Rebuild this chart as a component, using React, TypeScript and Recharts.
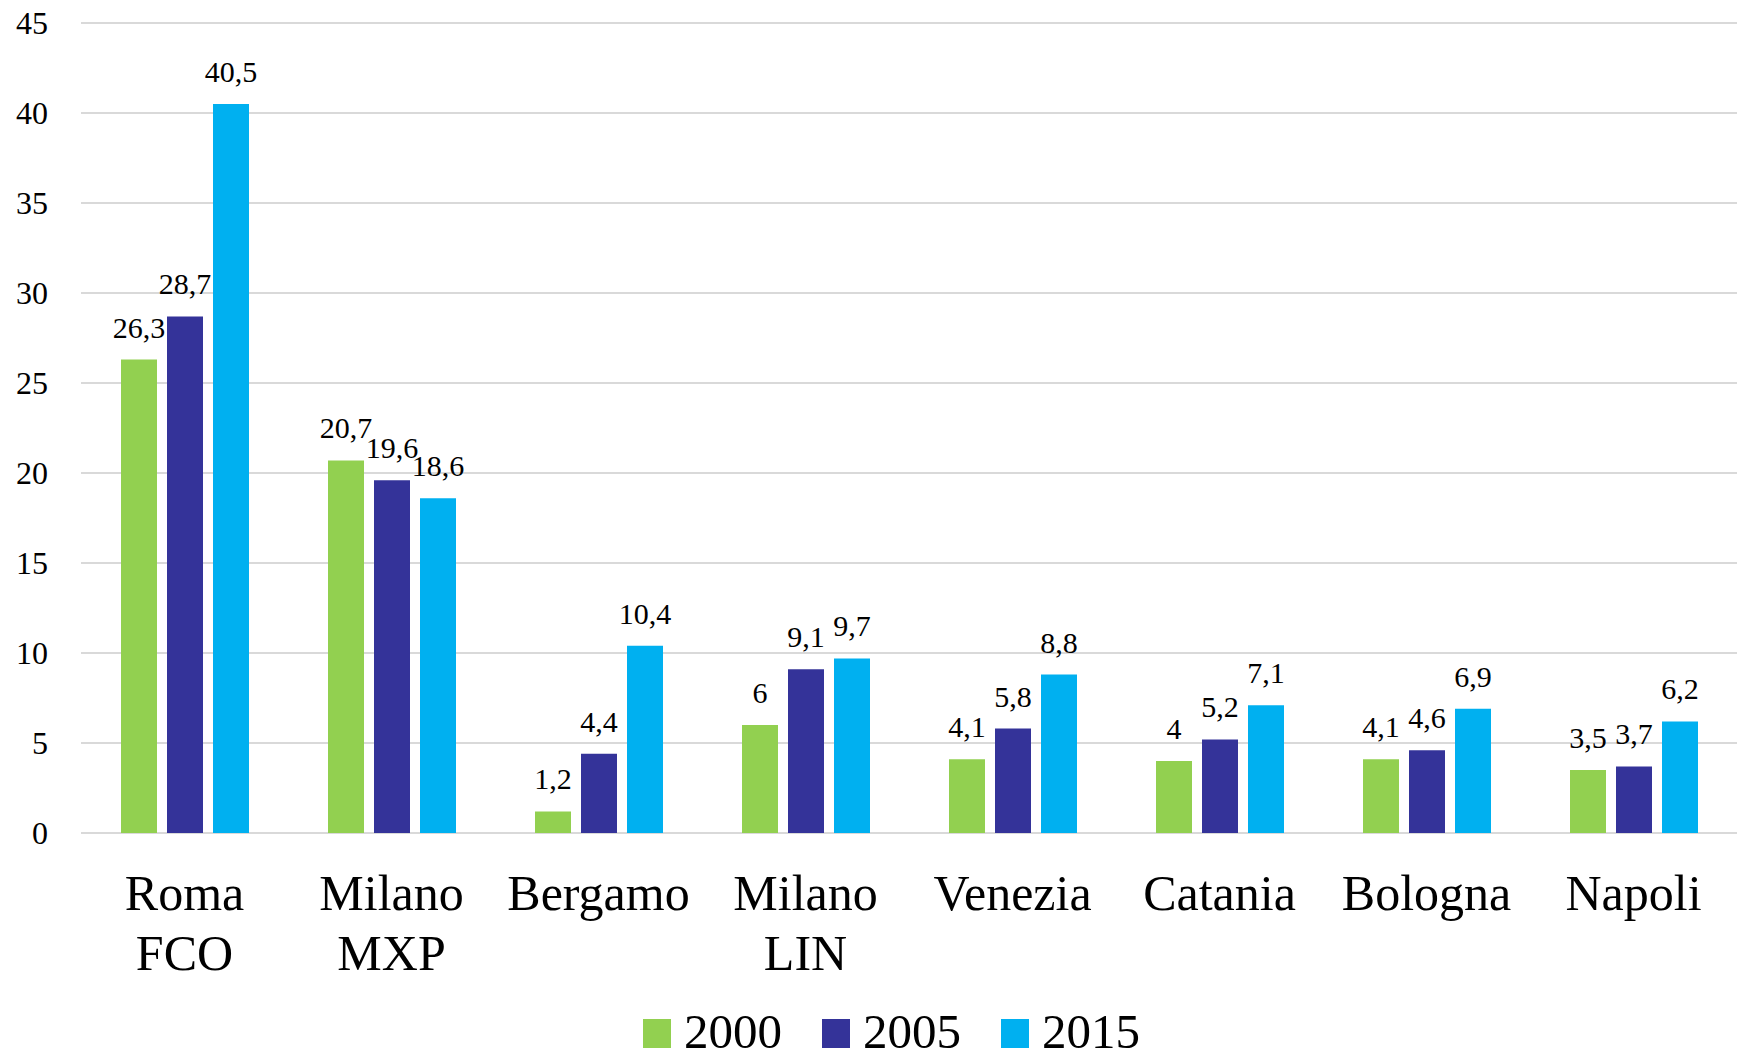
import { BarChart, Bar, XAxis, YAxis, CartesianGrid, Legend, LabelList } from 'recharts'

const airports = ['Roma\nFCO', 'Milano\nMXP', 'Bergamo', 'Milano\nLIN', 'Venezia', 'Catania', 'Bologna', 'Napoli']
const values2000 = [26.3, 20.7, 1.2, 6, 4.1, 4, 4.1, 3.5]
const values2005 = [28.7, 19.6, 4.4, 9.1, 5.8, 5.2, 4.6, 3.7]
const values2015 = [40.5, 18.6, 10.4, 9.7, 8.8, 7.1, 6.9, 6.2]
const yTicks = [0, 5, 10, 15, 20, 25, 30, 35, 40, 45]

const series = [
  { key: 'y2000', name: '2000', color: '#92D050' },
  { key: 'y2005', name: '2005', color: '#343399' },
  { key: 'y2015', name: '2015', color: '#00B0F0' },
]

const data = airports.map((name, i) => ({
  name,
  y2000: values2000[i],
  y2005: values2005[i],
  y2015: values2015[i],
}))

const FONT = '"Liberation Serif", "Times New Roman", serif'

const fmt = (v: any) => String(v).replace('.', ',')

function CategoryTick({ x, y, payload }: any) {
  const lines = String(payload.value).split('\n')
  return (
    <text x={x} y={y + 77} textAnchor="middle" fill="#000" fontFamily={FONT} fontSize={50}>
      {lines.map((line, i) => (
        <tspan key={i} x={x} dy={i === 0 ? 0 : 60}>{line}</tspan>
      ))}
    </text>
  )
}

function ValueTick({ x, y, payload }: any) {
  return (
    <text x={x} y={y} dy={11} textAnchor="end" fill="#000" fontFamily={FONT} fontSize={32}>
      {payload.value}
    </text>
  )
}

function LegendContent() {
  return (
    <div style={{ height: 56, paddingLeft: 643, fontFamily: FONT, fontSize: 49, lineHeight: '56px', whiteSpace: 'nowrap', color: '#000' }}>
      {series.map((s, i) => (
        <span key={s.key} style={{ marginRight: i < series.length - 1 ? 40 : 0 }}>
          <span style={{ display: 'inline-block', width: 28, height: 29, background: s.color, marginRight: 13, verticalAlign: 'baseline' }} />
          {s.name}
        </span>
      ))}
    </div>
  )
}

export default function App() {
  return (
    <div style={{ position: 'absolute', left: 0, top: 0, background: '#fff', fontFamily: FONT }}>
      <BarChart
        width={1745}
        height={1057}
        data={data}
        margin={{ top: 23, right: 8, bottom: 8, left: 0 }}
        barGap={10}
        barSize={36}
      >
        <CartesianGrid vertical={false} stroke="#D9D9D9" strokeWidth={2} />
        <XAxis
          dataKey="name"
          height={160}
          axisLine={false}
          tickLine={false}
          tickSize={0}
          tickMargin={0}
          interval={0}
          tick={<CategoryTick />}
        />
        <YAxis
          width={81}
          domain={[0, 45]}
          ticks={yTicks}
          axisLine={false}
          tickLine={false}
          tickSize={0}
          tickMargin={33}
          tick={<ValueTick />}
        />
        <Legend verticalAlign="bottom" content={<LegendContent />} wrapperStyle={{ left: 0, width: 1745, bottom: -3 }} />
        {series.map((s) => (
          <Bar key={s.key} dataKey={s.key} name={s.name} fill={s.color} isAnimationActive={false}>
            <LabelList dataKey={s.key} position="top" offset={22} formatter={fmt} fill="#000" fontFamily={FONT} fontSize={30} />
          </Bar>
        ))}
      </BarChart>
    </div>
  )
}
